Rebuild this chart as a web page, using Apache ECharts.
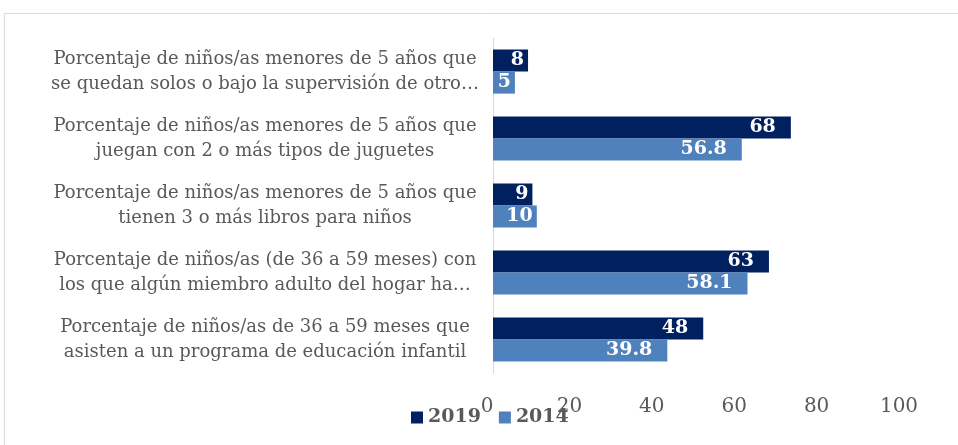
<!DOCTYPE html>
<html>
<head>
<meta charset="utf-8">
<script src="https://cdn.jsdelivr.net/npm/echarts@6/dist/echarts.min.js"></script>
<style>
  html, body { margin: 0; padding: 0; background: #fff; }
  #chart { width: 958px; height: 445px; }
</style>
</head>
<body>
<div id="chart"></div>
<script>
// categories, top to bottom
const categories = [
  'Porcentaje de niños/as menores de 5 años que\nse quedan solos o bajo la supervisión de otro…',
  'Porcentaje de niños/as menores de 5 años que\njuegan con 2 o más tipos de juguetes',
  'Porcentaje de niños/as menores de 5 años que\ntienen 3 o más libros para niños',
  'Porcentaje de niños/as (de 36 a 59 meses) con\nlos que algún miembro adulto del hogar ha…',
  'Porcentaje de niños/as de 36 a 59 meses que\nasisten a un programa de educación infantil'
]
const values2019 = [8, 68, 9, 63, 48]
const values2014 = [5, 56.8, 10, 58.1, 39.8]

const serif = 'DejaVu Serif'
const chart = echarts.init(document.getElementById('chart'))

const barLabel = {
  show: true,
  position: 'insideRight',
  distance: 15,
  color: '#fff',
  fontFamily: serif,
  fontWeight: 'bold',
  fontSize: 19
}

// short bars keep their label close to the bar end
function barData(values) {
  return values.map(v => v < 12 ? { value: v, label: { distance: 4 } } : v)
}

const option = {
  animation: false,
  graphic: [
    {
      type: 'rect',
      shape: { x: 4.5, y: 13.5, width: 1000, height: 600 },
      style: { fill: 'none', stroke: '#d9d9d9', lineWidth: 1 },
      silent: true
    }
  ],
  legend: {
    left: 406,
    top: 403,
    itemWidth: 12,
    itemHeight: 12,
    itemGap: 18,
    icon: 'rect',
    textStyle: {
      fontFamily: serif,
      fontWeight: 'bold',
      fontSize: 19,
      color: '#595959'
    },
    data: ['2019', '2014']
  },
  grid: [
    { left: 493, right: 27, top: 38, bottom: 72 },
    // tick labels sit on a slightly narrower track, as in the source picture
    { left: 487, right: 59, top: 38, bottom: 72 }
  ],
  xAxis: [
    {
      type: 'value',
      gridIndex: 0,
      min: 0,
      max: 100,
      interval: 20,
      axisLine: { show: false },
      axisTick: { show: false },
      splitLine: { show: false },
      axisLabel: { show: false }
    },
    {
      type: 'value',
      gridIndex: 1,
      min: 0,
      max: 100,
      interval: 20,
      axisLine: { show: false },
      axisTick: { show: false },
      splitLine: { show: false },
      axisLabel: {
        margin: 24,
        fontFamily: serif,
        fontSize: 20,
        color: '#595959'
      }
    }
  ],
  yAxis: [
    {
      type: 'category',
      gridIndex: 0,
      inverse: true,
      data: categories,
      axisLine: { lineStyle: { color: '#d9d9d9', width: 1 } },
      axisTick: { show: false },
      axisLabel: {
        margin: 228,
        align: 'center',
        fontFamily: serif,
        fontSize: 18,
        lineHeight: 25,
        color: '#595959'
      }
    },
    {
      type: 'category',
      gridIndex: 1,
      data: categories,
      show: false
    }
  ],
  series: [
    {
      name: '2019',
      type: 'bar',
      data: barData(values2019),
      barGap: '0%',
      barCategoryGap: '34%',
      itemStyle: { color: '#002060' },
      label: barLabel
    },
    {
      name: '2014',
      type: 'bar',
      data: barData(values2014),
      barGap: '0%',
      barCategoryGap: '34%',
      itemStyle: { color: '#4F81BD' },
      label: barLabel
    }
  ]
}
chart.setOption(option)
</script>
</body>
</html>
